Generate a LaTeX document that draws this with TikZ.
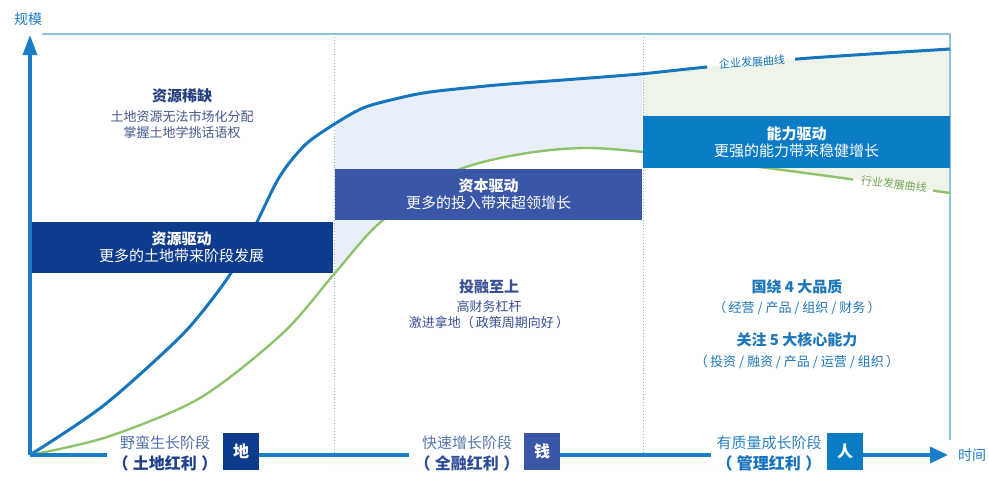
\documentclass[tikz,border=0pt]{standalone}
\usepackage{fontspec}
\setmainfont{Noto Sans CJK SC}
\usetikzlibrary{arrows.meta}
\definecolor{navy}{HTML}{0F3B8C}
\definecolor{midblue}{HTML}{3A56A6}
\definecolor{sky}{HTML}{0A7BC5}
\definecolor{axisblue}{HTML}{1A7DC8}
\definecolor{curveblue}{HTML}{1676BD}
\definecolor{curvegreen}{HTML}{8DC36A}
\definecolor{fillblue}{HTML}{E9EFF8}
\definecolor{fillgreen}{HTML}{EFF4E8}
\definecolor{framec}{HTML}{8EC3DF}
\definecolor{dotc}{HTML}{8DB2D3}
\definecolor{txtnavy}{HTML}{24407E}
\definecolor{txtgray}{HTML}{44568C}
\definecolor{txtmid}{HTML}{3A4F96}
\definecolor{txtsky}{HTML}{1E76BB}
\definecolor{labA}{HTML}{4F6FA8}
\definecolor{labAb}{HTML}{1F3F8B}
\definecolor{labB}{HTML}{5673AC}
\definecolor{labBb}{HTML}{2F4C98}
\definecolor{labC}{HTML}{2B82C4}
\definecolor{labCb}{HTML}{1473BC}
\newcommand\myfs[2]{\fontsize{#1}{#2}\selectfont}
\def\bluepts{(30,455) (103,406) (177,340) (210,302) (236,265) (257,222) (280,176) (305,145) (333,125) (363,108) (395,99) (430,92) (497,85) (563,80) (640,74) (707,67) (797,59) (870,54) (950,49)}
\def\greenpts{(30,455) (107,437) (200,398) (283,333) (335,273) (383,220) (463,168) (587,148) (767,168) (950,193)}
\edef\fillBlueZone{\noexpand\fill[fillblue] plot[smooth] coordinates {\bluepts} -- (950,470) -- (30,470) -- cycle;}
\edef\fillGreenZone{\noexpand\fill[fillgreen] plot[smooth] coordinates {\bluepts} -- (950,470) -- (30,470) -- cycle;}
\edef\fillWhiteZone{\noexpand\fill[white] plot[smooth] coordinates {\greenpts} -- (950,470) -- (30,470) -- cycle;}
\edef\drawBlueCurve{\noexpand\draw[bluecurve] plot[smooth] coordinates {\bluepts};}
\edef\drawGreenCurve{\noexpand\draw[greencurve] plot[smooth] coordinates {\greenpts};}
\begin{document}
\begin{tikzpicture}[x=1pt,y=-1pt,
  bluecurve/.style={draw=curveblue,line width=3pt},
  greencurve/.style={draw=curvegreen,line width=2.4pt},
  frameline/.style={draw=framec,line width=1.5pt},
  divider/.style={draw=dotc,line width=0.9pt,dotted},
  axisline/.style={draw=axisblue,line width=3.4pt},
  stagebox/.style={minimum height=51pt,inner sep=0pt,text=white,align=center,font=\myfs{15}{17}},
  sq/.style={minimum width=36pt,minimum height=37pt,inner sep=0pt,text=white,font=\myfs{16}{18}\bfseries},
  lab/.style={minimum width=116pt,inner sep=0pt,align=center,font=\myfs{15}{21}},
  ttl/.style={inner sep=0pt,font=\myfs{15}{18}\bfseries},
  body/.style={inner sep=0pt,align=center,font=\myfs{13}{16}},
  curvelab/.style={inner sep=0pt,font=\myfs{11}{13}}
]
\useasboundingbox (0,0) rectangle (989,483);
% zone fills
\begin{scope}\clip (335,30) rectangle (642,470); \fillBlueZone \end{scope}
\begin{scope}\clip (643,30) rectangle (950,470); \fillGreenZone \end{scope}
\begin{scope}\clip (335,30) rectangle (950,470); \fillWhiteZone \end{scope}
% frame
\coordinate (tl) at (42,34);
\coordinate (tr) at (950,34);
\coordinate (br) at (950,440);
\draw[frameline] (tl) -- (tr) -- (br);
% dividers
\coordinate (d1t) at (334,34);
\coordinate (d1b) at (334,453);
\coordinate (d2t) at (643,34);
\coordinate (d2b) at (643,453);
\draw[divider] (d1t) -- (d1b);
\draw[divider] (d2t) -- (d2b);
% curves
\begin{scope}\clip (0,0) rectangle (707,483) (795,0) rectangle (989,483); \drawBlueCurve \end{scope}
\begin{scope}\clip (0,0) rectangle (853,483) (933,0) rectangle (989,483); \drawGreenCurve \end{scope}
\node[curvelab,text=curveblue,rotate=4] (cb) at (752,62) {企业发展曲线};
\node[curvelab,text=curvegreen!85!black,rotate=-7] (cg) at (894,184) {行业发展曲线};
% stage boxes
\node[stagebox,fill=navy,minimum width=303pt] (b1) at (181.5,247.5) {\textbf{资源驱动}\\更多的土地带来阶段发展};
\node[stagebox,fill=midblue,minimum width=307pt] (b2) at (488.5,194.5) {\textbf{资本驱动}\\更多的投入带来超领增长};
\node[stagebox,fill=sky,minimum width=307pt,minimum height=52pt] (b3) at (796.5,142) {\textbf{能力驱动}\\更强的能力带来稳健增长};
% zone texts
\node[ttl,text=txtnavy] (t1) at (182,96) {资源稀缺};
\node[body,text=txtgray] (t1b) at (182,125) {土地资源无法市场化分配\\掌握土地学挑话语权};
\node[ttl,text=txtmid] (t2) at (489,287) {投融至上};
\node[body,text=txtmid] (t2b) at (489,315) {高财务杠杆\\激进拿地（\,政策周期向好\,）};
\node[ttl,text=txtsky] (t3) at (797,287) {国绕 4 大品质};
\node[body,text=txtsky] (t3b) at (797,308) {（\,经营 / 产品 / 组织 / 财务\,）};
\node[ttl,text=txtsky] (t4) at (797,340) {关注 5 大核心能力};
\node[body,text=txtsky] (t4b) at (797,362) {（\,投资 / 融资 / 产品 / 运营 / 组织\,）};
% axis labels
\node[inner sep=0pt,text=axisblue,font=\myfs{14}{16}] (ylab) at (28,19) {规模};
\node[inner sep=0pt,text=axisblue,font=\myfs{14}{16}] (xlab) at (972,455) {时间};
% bottom stage labels
\coordinate (O) at (30,455);
\coordinate (ytip) at (30,35);
\coordinate (xtip) at (948,455);
\node[lab,text=labA] (l1) at (165,453) {野蛮生长阶段\\{\color{labAb}\bfseries\myfs{16}{21}（\;土地红利\;）}};
\node[lab,text=labB] (l2) at (467,453) {快速增长阶段\\{\color{labBb}\bfseries\myfs{16}{21}（\;全融红利\;）}};
\node[lab,text=labC] (l3) at (769,453) {有质量成长阶段\\{\color{labCb}\bfseries\myfs{16}{21}（\;管理红利\;）}};
\node[sq,fill=navy] (s1) at (241,451.5) {地};
\node[sq,fill=midblue] (s2) at (542,451.5) {钱};
\node[sq,fill=sky] (s3) at (845,451.5) {人};
% axes
\draw[axisline,-{Triangle[length=20pt,width=14pt]}] (O) -- (ytip);
\draw[axisline] (O) -- (O -| l1.west);
\draw[axisline] (s1.east |- O) -- (O -| l2.west);
\draw[axisline] (s2.east |- O) -- (O -| l3.west);
\draw[axisline,-{Triangle[length=18pt,width=16pt]}] (s3.east |- O) -- (xtip);
\end{tikzpicture}
\end{document}
